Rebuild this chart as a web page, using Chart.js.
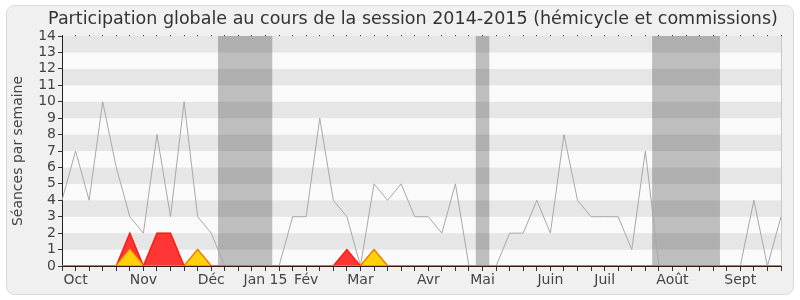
<!DOCTYPE html>
<html>
<head>
<meta charset="utf-8">
<script src="https://cdn.jsdelivr.net/npm/chart.js@4.4.1/dist/chart.umd.min.js"></script>
<style>
  html, body { margin: 0; padding: 0; background: #ffffff; }
  #wrap { width: 800px; height: 300px; }
</style>
</head>
<body>
<div id="wrap"><canvas id="canvasParticipation"></canvas></div>
<script>
// weekly values, session 2014-2015
var semaineLabels = [
  "", "Oct", "", "", "", "", "Nov", "", "", "", "", "Déc", "", "", "", "Jan 15",
  "", "", "Fév", "", "", "", "Mar", "", "", "", "", "Avr", "", "", "", "Mai",
  "", "", "", "", "Juin", "", "", "", "Juil", "", "", "", "", "Août", "", "",
  "", "", "Sept", "", "", ""
];

var seancesGlobales = [
  4, 7, 4, 10, 6, 3, 2, 8, 3, 10, 3, 2, 0, 0, 0, 0, 0, 3, 3, 9, 4, 3, 0, 5, 4, 5, 3,
  3, 2, 5, 0, 0, 0, 2, 2, 4, 2, 8, 4, 3, 3, 3, 1, 7, 0, 0, 0, 0, 0, 0, 0, 4, 0, 3
];

var presences = [
  0, 0, 0, 0, 0, 2, 0, 2, 2, 0, 1, 0, 0, 0, 0, 0, 0, 0, 0, 0, 0, 1, 0, 1, 0, 0, 0,
  0, 0, 0, 0, 0, 0, 0, 0, 0, 0, 0, 0, 0, 0, 0, 0, 0, 0, 0, 0, 0, 0, 0, 0, 0, 0, 0
];

var interventions = [
  0, 0, 0, 0, 0, 1, 0, 0, 0, 0, 1, 0, 0, 0, 0, 0, 0, 0, 0, 0, 0, 0, 0, 1, 0, 0, 0,
  0, 0, 0, 0, 0, 0, 0, 0, 0, 0, 0, 0, 0, 0, 0, 0, 0, 0, 0, 0, 0, 0, 0, 0, 0, 0, 0
];

var questions = [
  0, 0, 0, 0, 0, 0, 0, 0, 0, 0, 0, 0, 0, 0, 0, 0, 0, 0, 0, 0, 0, 0, 0, 0, 0, 0, 0,
  0, 0, 0, 0, 0, 0, 0, 0, 0, 0, 0, 0, 0, 0, 0, 0, 0, 0, 0, 0, 0, 0, 0, 0, 0, 0, 0
];

// vacances (first and last week index)
var vacancesDebut = [12, 31, 44];
var vacancesFin = [15, 31, 48];

var titel = "Participation globale au cours de la session 2014-2015 (hémicycle et commissions)";

var hintergrundPlugin = {
  id: "hintergrund",
  beforeDraw: function (chart) {
    var ctx = chart.ctx;
    var area = chart.chartArea;
    var y = chart.scales.y;
    ctx.save();
    ctx.fillStyle = "#ffffff";
    ctx.fillRect(0, 0, chart.width, chart.height);
    // rounded frame
    ctx.fillStyle = "#f0f0f0";
    ctx.strokeStyle = "#dadada";
    ctx.lineWidth = 1;
    ctx.beginPath();
    ctx.roundRect(6.5, 5.5, 787, 289, 8);
    ctx.fill();
    ctx.stroke();
    // stripes
    for (var v = 0; v < 14; v++) {
      ctx.fillStyle = v % 2 === 1 ? "#e6e6e6" : "#fafafa";
      var top = y.getPixelForValue(v + 1);
      var bottom = y.getPixelForValue(v);
      ctx.fillRect(area.left, top, area.right - area.left, bottom - top);
    }
    // title
    ctx.fillStyle = "#333333";
    ctx.font = "17.5px 'DejaVu Sans'";
    ctx.textAlign = "center";
    ctx.textBaseline = "middle";
    ctx.fillText(titel, 413, 19);
    ctx.restore();
  },
  beforeDatasetsDraw: function (chart) {
    var ctx = chart.ctx;
    var area = chart.chartArea;
    var x = chart.scales.x;
    var halb = (x.getPixelForValue(1) - x.getPixelForValue(0)) / 2;
    ctx.save();
    ctx.fillStyle = "rgba(0, 0, 0, 0.24)";
    for (var i = 0; i < vacancesDebut.length; i++) {
      var links = x.getPixelForValue(vacancesDebut[i]) - halb;
      var rechts = x.getPixelForValue(vacancesFin[i]) + halb;
      ctx.fillRect(links, area.top, rechts - links, area.bottom - area.top);
    }
    ctx.restore();
  },
  afterDraw: function (chart) {
    var ctx = chart.ctx;
    var area = chart.chartArea;
    ctx.save();
    ctx.strokeStyle = "#c8c8c8";
    ctx.beginPath();
    ctx.moveTo(Math.round(area.right) + 0.5, area.top);
    ctx.lineTo(Math.round(area.right) + 0.5, area.bottom);
    ctx.stroke();
    ctx.restore();
  }
};

function erstelleDiagramm() {
  var canvas = document.getElementById("canvasParticipation").getContext("2d");
  window.chartParticipation = new Chart(canvas, {
    type: "line",
    data: {
      labels: semaineLabels,
      datasets: [
        {
          label: "Séances",
          data: seancesGlobales,
          borderColor: "#a8a8a8",
          borderWidth: 1,
          pointRadius: 0,
          fill: false,
          tension: 0,
          order: 4,
        },
        {
          label: "Présences",
          data: presences,
          borderColor: "#ff1a1a",
          backgroundColor: "#ff3636",
          borderWidth: 1.5,
          pointRadius: 0,
          fill: "origin",
          tension: 0,
          order: 3,
        },
        {
          label: "Interventions",
          data: interventions,
          borderColor: "#f0b400",
          backgroundColor: "#ffd20a",
          borderWidth: 1.5,
          pointRadius: 0,
          fill: "origin",
          tension: 0,
          order: 2,
        },
        {
          label: "Présences (ligne)",
          data: presences,
          borderColor: "rgba(255, 40, 0, 0.5)",
          borderWidth: 1,
          pointRadius: 0,
          fill: false,
          tension: 0,
          order: 1,
        },
        {
          label: "Questions",
          data: questions,
          borderColor: "#3cb43c",
          borderWidth: 1,
          pointRadius: 0,
          fill: false,
          tension: 0,
          order: 0,
        },
      ],
    },
    options: {
      responsive: true,
      maintainAspectRatio: false,
      animation: false,
      layout: {
        padding: { left: 0, right: 19, top: 34, bottom: 0 },
      },
      plugins: {
        legend: { display: false },
        tooltip: { enabled: false },
        title: { display: false },
      },
      scales: {
        x: {
          type: "category",
          offset: false,
          grid: {
            display: true,
            drawOnChartArea: false,
            drawTicks: true,
            tickLength: 5,
            color: "#333333",
          },
          border: { display: true, color: "#3a1a10", width: 1 },
          ticks: {
            autoSkip: false,
            maxRotation: 0,
            minRotation: 0,
            color: "#444444",
            padding: 1,
            font: { family: "DejaVu Sans", size: 14 },
          },
          afterFit: function (scale) {
            scale.height = 34;
          },
        },
        x2: {
          type: "category",
          position: "top",
          offset: false,
          grid: {
            display: true,
            drawOnChartArea: false,
            tickLength: 1,
            color: "#333333",
          },
          border: { display: false },
          ticks: { display: false },
          afterFit: function (scale) {
            scale.height = 2;
          },
        },
        y: {
          min: 0,
          max: 14,
          grid: {
            display: true,
            drawOnChartArea: false,
            tickLength: 4,
            color: "#333333",
          },
          border: { display: true, color: "#222222", width: 1 },
          ticks: {
            stepSize: 1,
            autoSkip: false,
            color: "#444444",
            padding: 2,
            font: { family: "DejaVu Sans", size: 14 },
          },
          title: {
            display: true,
            text: "Séances par semaine",
            color: "#444444",
            font: { family: "DejaVu Sans", size: 14 },
            padding: { top: 10, bottom: 0 },
          },
          afterFit: function (scale) {
            scale.width = 62;
          },
        },
      },
    },
    plugins: [hintergrundPlugin],
  });
}

window.addEventListener("DOMContentLoaded", function () {
  erstelleDiagramm();
});
</script>
</body>
</html>
